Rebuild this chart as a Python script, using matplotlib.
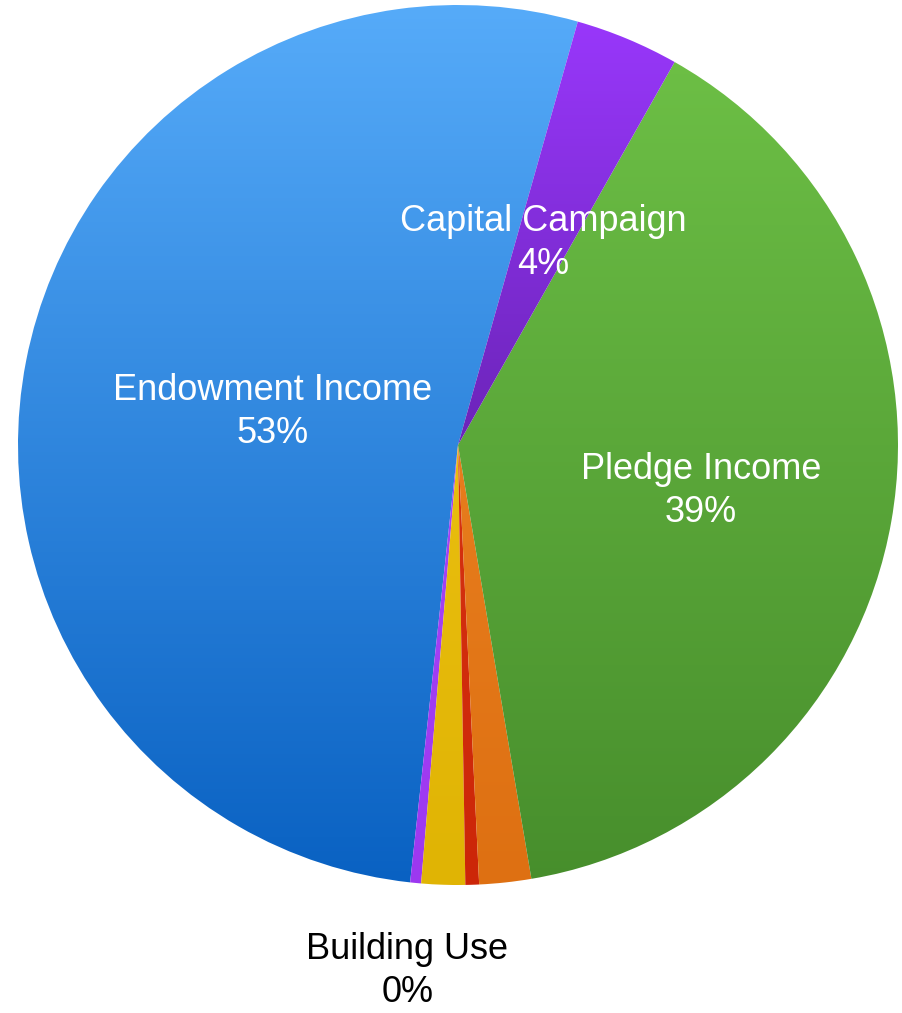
import numpy as np
import matplotlib.pyplot as plt
from matplotlib.colors import LinearSegmentedColormap

# slices, counterclockwise starting at the top boundary
labels = ['Endowment Income', 'Building Use', 'Other Income', 'Interest',
          'Fundraising', 'Pledge Income', 'Capital Campaign']
values = [52.6, 0.4, 1.6, 0.5, 1.9, 39.1, 3.8]
pct_text = ['53%', '0%', '2%', '1%', '2%', '39%', '4%']
show_label = [True, True, False, False, False, True, True]

# gradient colours (top, bottom) per slice
grad = [('#56abf9', '#0961c2'),
        ('#b050ff', '#9c38f0'),
        ('#f2c81a', '#e0b404'),
        ('#e0401a', '#cc2608'),
        ('#f08a28', '#de7012'),
        ('#6fc247', '#478e2c'),
        ('#9a38fd', '#3c1074')]
label_r = [0.43, 1.195, 0.5, 0.5, 0.5, 0.56, 0.505]

W, H = 903, 1013
cx, cy, R = 458, H - 445, 440

fig = plt.figure(figsize=(W / 100, H / 100), dpi=100)
ax = fig.add_axes([0, 0, 1, 1])
wedges, _ = ax.pie(values, startangle=74.2, center=(cx, cy), radius=R,
                   colors=['none'] * len(values), frame=True,
                   wedgeprops=dict(linewidth=0))
ax.set_xlim(0, W)
ax.set_ylim(0, H)
ax.set_aspect('equal')
ax.axis('off')

for w, (c_top, c_bot) in zip(wedges, grad):
    cmap = LinearSegmentedColormap.from_list('g', [c_bot, c_top])
    g = np.linspace(0, 1, 256).reshape(-1, 1)
    im = ax.imshow(g, cmap=cmap, origin='lower', aspect='auto',
                   extent=(cx - R, cx + R, cy - R, cy + R), zorder=1)
    im.set_clip_path(w)

for w, lab, p, show, rf in zip(wedges, labels, pct_text, show_label, label_r):
    if not show:
        continue
    ang = np.deg2rad((w.theta1 + w.theta2) / 2)
    x = cx + rf * R * np.cos(ang)
    y = cy + rf * R * np.sin(ang) - 3
    col = 'black' if rf > 1 else 'white'
    ax.text(x, y, lab + '\n' + p, ha='center', va='center', color=col,
            fontsize=26, family='Liberation Sans', linespacing=1.3, zorder=3)

plt.savefig('out.png', dpi=100)
plt.close()
